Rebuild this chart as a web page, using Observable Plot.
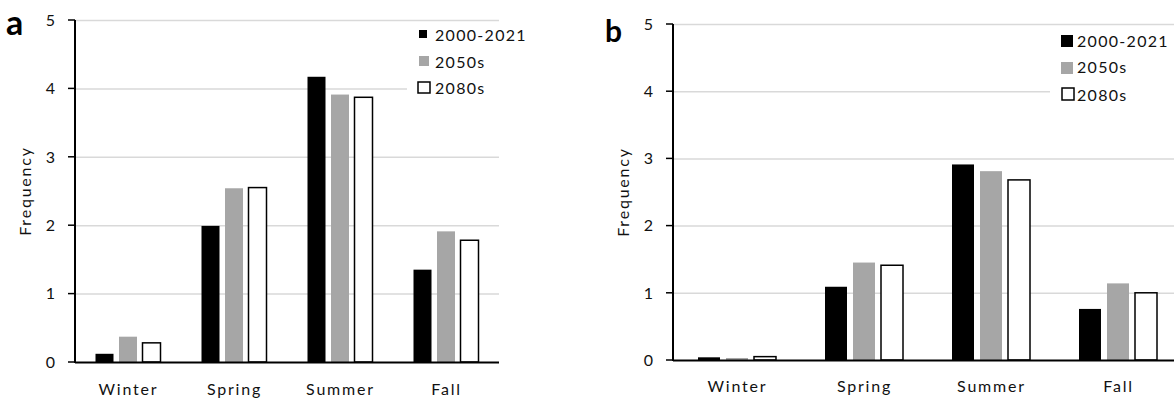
<!DOCTYPE html>
<html>
<head>
<meta charset="utf-8">
<script src="https://cdn.jsdelivr.net/npm/d3@7"></script>
<script src="https://cdn.jsdelivr.net/npm/@observablehq/plot@0.6"></script>
<style>
  html, body { margin: 0; padding: 0; background: #fff; }
  body { width: 1174px; height: 401px; overflow: hidden; position: relative; font-family: Lato, sans-serif; }
  .panel { position: absolute; top: 0; }
  #overlay { position: absolute; left: 0; top: 0; pointer-events: none; }
  .xlab text { letter-spacing: 1.8px; }
</style>
</head>
<body>
<div id="pa" class="panel" style="left:0px"></div>
<div id="pb" class="panel" style="left:590px"></div>
<svg id="overlay" width="1174" height="401"></svg>
<script>
// ---- data ----
const categories = ["Winter", "Spring", "Summer", "Fall"];
const seriesNames = ["2000-2021", "2050s", "2080s"];
const yTicks = [0, 1, 2, 3, 4, 5];
const axisLabel = "Frequency";
const panelLabels = ["a", "b"];

const a2000 = [0.12, 1.99, 4.17, 1.35];
const a2050 = [0.37, 2.54, 3.91, 1.91];
const a2080 = [0.28, 2.55, 3.87, 1.78];

const b2000 = [0.04, 1.09, 2.91, 0.76];
const b2050 = [0.03, 1.45, 2.81, 1.14];
const b2080 = [0.05, 1.41, 2.68, 1.00];

// ---- styles ----
const fills = ["#000000", "#a6a6a6", "#ffffff"];
const strokes = ["none", "none", "#000000"];
const textColor = "#111";
const font = "Lato";
const ov = d3.select("#overlay");

function rows(vals) {
  return categories.map((c, i) => ({category: c, value: vals[i]}));
}

function panel({series, left, width, marginLeft, marginRight, marginTop, marginBottom, xRange, barW, step, gap, tickPadX}) {
  const pi = 1 - barW / step;
  const offsets = [-gap, 0, gap];
  const plot = Plot.plot({
    width, height: 401, marginLeft, marginRight, marginTop, marginBottom,
    style: {fontFamily: font, fontSize: "16px", color: textColor, background: "transparent", overflow: "visible"},
    x: {domain: categories, paddingInner: pi, paddingOuter: pi / 2, axis: null, ...(xRange ? {range: xRange} : {})},
    y: {domain: [0, 5], axis: null},
    marks: [
      Plot.ruleY(yTicks.filter(d => d > 0), {stroke: "#d9d9d9", strokeWidth: 1.5}),
      ...series.map((vals, k) => Plot.barY(rows(vals), {
        x: "category", y: "value", dx: offsets[k],
        fill: fills[k], stroke: strokes[k], strokeWidth: 1.5
      })),
      Plot.ruleY([0], {stroke: "#000", strokeWidth: 2}),
      Plot.text(categories, {x: d => d, text: d => d, frameAnchor: "bottom", lineAnchor: "top", dy: tickPadX, fontSize: 16, fill: textColor, className: "xlab"})
    ]
  });
  const y = plot.scale("y");
  const g = d3.select(plot).append("g").attr("stroke", "#000");
  g.append("line").attr("x1", marginLeft).attr("x2", marginLeft)
    .attr("y1", y.apply(0) + 1).attr("y2", y.apply(5)).attr("stroke-width", 2);
  yTicks.forEach(t => g.append("line").attr("x1", marginLeft - 7).attr("x2", marginLeft)
    .attr("y1", y.apply(t)).attr("y2", y.apply(t)).attr("stroke-width", 1.5));
  // y tick labels and axis title, placed on the page from the plot's own y scale
  yTicks.forEach(t => ov.append("text").attr("x", left + marginLeft - 20).attr("y", y.apply(t))
    .attr("dy", "0.36em").attr("text-anchor", "end").attr("font-family", font).attr("font-size", 16)
    .attr("fill", textColor).text(String(t)));
  const cx = left + marginLeft - 50, cy = (y.apply(0) + y.apply(5)) / 2;
  ov.append("text").attr("transform", `translate(${cx},${cy}) rotate(-90)`)
    .attr("dy", "0.36em").attr("text-anchor", "middle").attr("font-family", font).attr("font-size", 16)
    .attr("letter-spacing", "1.8px").attr("fill", textColor).text(axisLabel);
  return plot;
}

document.getElementById("pa").appendChild(panel({
  series: [a2000, a2050, a2080], left: 0,
  width: 560, marginLeft: 75, marginRight: 61, marginTop: 20, marginBottom: 39,
  barW: 17.5, step: 106, gap: 23.5, tickPadX: 21
}));

document.getElementById("pb").appendChild(panel({
  series: [b2000, b2050, b2080], left: 590,
  width: 584, marginLeft: 83, marginRight: 0, marginTop: 24, marginBottom: 41,
  xRange: [83, 591], barW: 22, step: 127, gap: 28, tickPadX: 20
}));

ov.append("text").attr("x", 6).attr("y", 35).attr("font-family", font).attr("font-weight", 700)
  .attr("font-size", 34).attr("fill", "#000").text(panelLabels[0]);
ov.append("text").attr("x", 605).attr("y", 42).attr("font-family", font).attr("font-weight", 700)
  .attr("font-size", 30).attr("fill", "#000").text(panelLabels[1]);

function legend(box, items) {
  ov.append("rect").attr("x", box[0]).attr("y", box[1]).attr("width", box[2]).attr("height", box[3]).attr("fill", "#fff");
  items.forEach((it, k) => {
    ov.append("rect").attr("x", it.sx).attr("y", it.sy).attr("width", it.sw).attr("height", it.sh)
      .attr("fill", fills[k]).attr("stroke", strokes[k] === "none" ? "none" : "#000").attr("stroke-width", 1.5);
    ov.append("text").attr("x", it.tx).attr("y", it.ty).attr("font-family", font).attr("font-size", 16)
      .attr("letter-spacing", "1.3px").attr("fill", textColor).text(seriesNames[k]);
  });
}
legend([407, 23, 130, 78], [
  {sx: 419, sy: 30, sw: 8, sh: 8, tx: 435, ty: 41},
  {sx: 419, sy: 56, sw: 10, sh: 10, tx: 435, ty: 68},
  {sx: 418, sy: 82, sw: 12, sh: 11, tx: 435, ty: 94}
]);
legend([1050, 27, 124, 80], [
  {sx: 1061, sy: 35, sw: 12, sh: 12, tx: 1077, ty: 47},
  {sx: 1061, sy: 62, sw: 12, sh: 12, tx: 1077, ty: 73},
  {sx: 1062, sy: 88, sw: 12, sh: 12, tx: 1077, ty: 101}
]);
</script>
</body>
</html>
